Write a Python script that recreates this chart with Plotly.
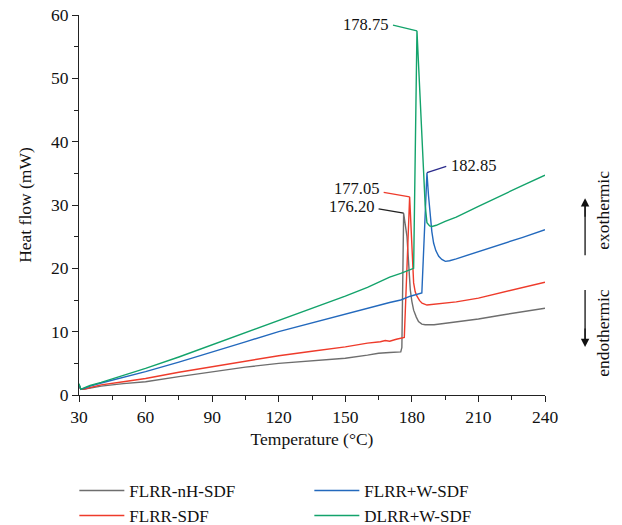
import plotly.graph_objects as go

# ---- data ----
names = ["FLRR-nH-SDF", "FLRR-SDF", "FLRR+W-SDF", "DLRR+W-SDF"]
colors = ["#6e6e6e", "#ee3b2b", "#2369bd", "#13a36b"]
legend_rank = [1, 3, 2, 4]

t_gray = [30, 30.8, 32, 35, 40, 50, 60, 75, 90, 105, 120, 135, 150, 160, 165, 170, 175, 175.5, 176.3, 177.8, 179.3, 180.0, 180.8, 182.0, 183.0, 184.5, 186.0, 190, 200, 210, 220, 230, 240]
h_gray = [1.6, 0.9, 0.9, 1.1, 1.4, 1.8, 2.1, 2.9, 3.7, 4.4, 5.0, 5.4, 5.8, 6.3, 6.6, 6.7, 6.8, 7.5, 28.7, 25.0, 16.6, 14.8, 13.4, 12.3, 11.6, 11.2, 11.1, 11.1, 11.5, 12.0, 12.6, 13.1, 13.7]

t_red = [30, 30.8, 32, 35, 40, 50, 60, 75, 90, 105, 120, 135, 150, 160, 165.8, 168, 170, 173, 176.6, 179.0, 180.0, 180.8, 181.5, 182.3, 183.5, 184.6, 186.8, 190, 200, 210, 220, 230, 240]
h_red = [1.5, 0.9, 0.9, 1.2, 1.6, 2.1, 2.6, 3.6, 4.5, 5.4, 6.2, 6.9, 7.6, 8.2, 8.4, 8.6, 8.5, 8.8, 9.1, 31.3, 23.0, 17.7, 16.3, 15.6, 14.9, 14.5, 14.2, 14.3, 14.7, 15.3, 16.1, 16.9, 17.8]

t_blue = [30, 30.8, 32, 35, 40, 50, 60, 75, 90, 105, 120, 135, 150, 160, 165.8, 170, 175, 179.3, 184.5, 186.8, 187.5, 188.3, 189.0, 189.8, 190.8, 192.1, 193.5, 195.1, 197, 200, 210, 220, 230, 240]
h_blue = [1.6, 0.9, 1.0, 1.4, 1.9, 2.8, 3.7, 5.2, 6.75, 8.4, 10.0, 11.4, 12.7, 13.7, 14.2, 14.6, 15.0, 15.6, 16.1, 35.1, 31.5, 28.2, 25.8, 24.0, 22.8, 21.9, 21.4, 21.1, 21.2, 21.5, 22.6, 23.8, 24.9, 26.1]

t_green = [30, 30.8, 32, 35, 40, 50, 60, 75, 90, 105, 120, 135, 150, 160, 165.8, 170, 175, 179.3, 180.8, 182.3, 184.5, 186.0, 186.8, 188.0, 189.1, 191, 195, 200, 210, 220, 230, 240]
h_green = [1.8, 0.9, 1.1, 1.5, 2.0, 3.1, 4.2, 6.0, 7.9, 9.9, 11.8, 13.6, 15.6, 17.0, 18.0, 18.6, 19.2, 19.8, 20.0, 57.5, 42.0, 30.0, 27.2, 26.7, 26.6, 26.8, 27.4, 28.1, 29.8, 31.5, 33.1, 34.7]

series_t = [t_gray, t_red, t_blue, t_green]
series_h = [h_gray, h_red, h_blue, h_green]

peak_labels = ["176.20", "177.05", "178.75", "182.85"]
peak_t = [176.3, 179.0, 182.3, 186.8]
peak_h = [28.7, 31.3, 57.5, 35.1]
peak_line_colors = ["#222222", "#ee3b2b", "#13a36b", "#2b2b8c"]
# leader-line start offsets and label offsets (data units)
lead_dt = [-11.3, -11.7, -10.8, 8.7]
lead_dh = [0.7, 0.7, 0.9, 1.0]
label_dh = [0.3, 0.6, 0.1, 0.1]

x_ticks = [30, 60, 90, 120, 150, 180, 210, 240]
y_ticks = [0, 10, 20, 30, 40, 50, 60]

FONT = "Liberation Serif"
FS = 17.5
TXT = "#111111"

fig = go.Figure()
for i in range(4):
    fig.add_trace(go.Scatter(
        x=series_t[i], y=series_h[i], mode="lines", name=names[i],
        line=dict(color=colors[i], width=1.4),
        legendrank=legend_rank[i],
    ))

for i in range(4):
    x0 = peak_t[i] + lead_dt[i]
    y0 = peak_h[i] + lead_dh[i]
    fig.add_shape(type="line", x0=x0, y0=y0, x1=peak_t[i], y1=peak_h[i],
                  xref="x", yref="y", line=dict(color=peak_line_colors[i], width=1.3))
    left = lead_dt[i] < 0
    fig.add_annotation(x=x0 + (-1.3 if left else 1.3), y=y0 + label_dh[i], text=peak_labels[i],
                       showarrow=False, xanchor="right" if left else "left", yanchor="middle",
                       xref="x", yref="y", font=dict(family=FONT, size=16.5, color=TXT))

# exo/endo arrows and labels
fig.add_shape(type="line", xref="paper", yref="paper", x0=1.086, x1=1.086, y0=0.368, y1=0.50,
              line=dict(color=TXT, width=1.3))
fig.add_shape(type="line", xref="paper", yref="paper", x0=1.086, x1=1.086, y0=0.276, y1=0.144,
              line=dict(color=TXT, width=1.3))
fig.add_annotation(x=1.086, y=0.518, xref="paper", yref="paper", text="", showarrow=True,
                   xanchor="center", yanchor="middle",
                   ax=0, ay=20, arrowhead=2, arrowsize=1.3, arrowwidth=1.3, arrowcolor=TXT)
fig.add_annotation(x=1.086, y=0.126, xref="paper", yref="paper", text="", showarrow=True,
                   xanchor="center", yanchor="middle",
                   ax=0, ay=-20, arrowhead=2, arrowsize=1.3, arrowwidth=1.3, arrowcolor=TXT)
fig.add_annotation(x=1.124, y=0.487, xref="paper", yref="paper", text="exothermic", showarrow=False,
                   xanchor="center", yanchor="middle",
                   textangle=-90, font=dict(family=FONT, size=FS, color=TXT))
fig.add_annotation(x=1.124, y=0.163, xref="paper", yref="paper", text="endothermic", showarrow=False,
                   xanchor="center", yanchor="middle",
                   textangle=-90, font=dict(family=FONT, size=FS, color=TXT))

axis_common = dict(showgrid=False, zeroline=False, showline=True, linecolor="#222222", linewidth=1.2,
                   ticks="outside", ticklen=6, tickwidth=1.2, tickcolor="#222222",
                   tickfont=dict(family=FONT, size=FS, color=TXT))
fig.update_xaxes(range=[30, 240], tickvals=x_ticks,
                 title=dict(text="Temperature (°C)", font=dict(family=FONT, size=FS, color=TXT), standoff=6),
                 minor=dict(dtick=15, tick0=30, ticks="outside", ticklen=4, tickcolor="#222222", tickwidth=1),
                 **axis_common)
fig.update_yaxes(range=[0, 60], tickvals=y_ticks,
                 title=dict(text="Heat flow (mW)", font=dict(family=FONT, size=FS, color=TXT), standoff=14),
                 minor=dict(dtick=5, tick0=0, ticks="outside", ticklen=4, tickcolor="#222222", tickwidth=1),
                 **axis_common)

fig.update_layout(
    width=622, height=525,
    margin=dict(l=79, r=77, t=15, b=130, autoexpand=False),
    paper_bgcolor="white", plot_bgcolor="white",
    showlegend=True,
    legend=dict(orientation="h", x=-0.01, y=-0.205, xanchor="left", yanchor="top",
                entrywidth=175, itemwidth=45, tracegroupgap=0,
                font=dict(family=FONT, size=17, color=TXT)),
)

fig.write_html("out.html")
